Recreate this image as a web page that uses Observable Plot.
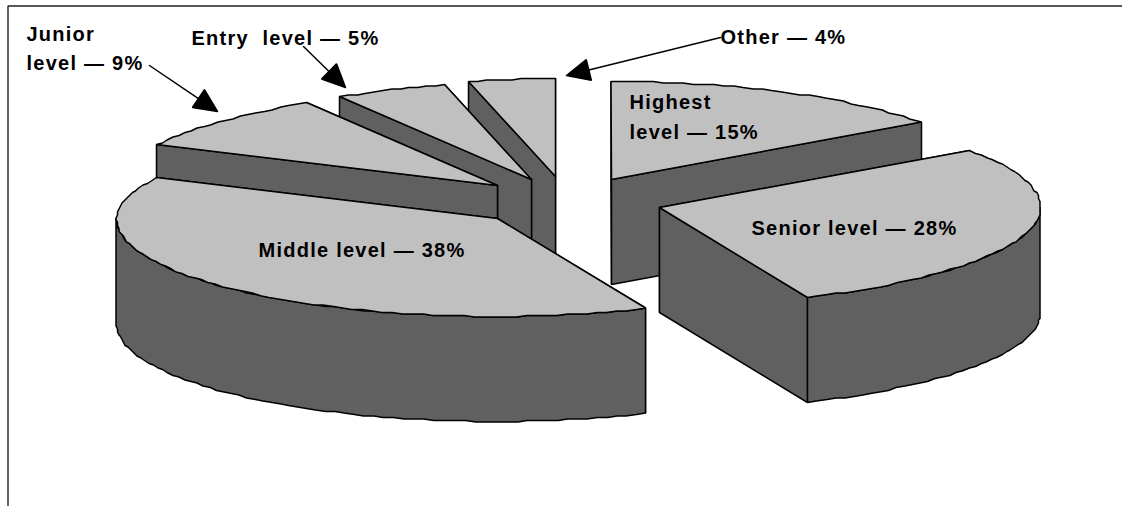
<!DOCTYPE html>
<html>
<head>
<meta charset="utf-8">
<style>
  html, body { margin: 0; padding: 0; background: #fff; }
  svg { display: block; }
</style>
<script src="https://cdn.jsdelivr.net/npm/d3@7"></script>
<script src="https://cdn.jsdelivr.net/npm/@observablehq/plot@0.6"></script>
</head>
<body>
<div id="chart"></div>
<script>
// Share of staff per level, clockwise from twelve o'clock.
const levels = ["Highest", "Senior", "Middle", "Junior", "Entry", "Other"];
const shares = [15, 28, 38, 9, 5, 4];

// Exploded wedge tips on the drawing grid.
const tipX = [611, 659, 497, 497, 531, 555];
const tipY = [179, 207, 218, 185, 179, 176];

// Back wedges are painted first so the front ones overlap them.
const paintOrder = ["Highest", "Other", "Entry", "Junior", "Middle", "Senior"];

const labelLines = ["Junior", "level — 9%", "Entry  level — 5%", "Other — 4%", "Highest", "level — 15%", "Senior level — 28%", "Middle level — 38%"];
const labelX = [26, 26, 191, 720, 629, 629, 751, 258];
const labelY = [34, 63.5, 38, 37, 102, 132, 228, 250];

// Leader arrows: tail and tip.
const arrowX1 = [149, 303, 720];
const arrowY1 = [65, 46, 37];
const arrowX2 = [217, 345, 566];
const arrowY2 = [111, 87, 75];

const radiusX = 381;
const radiusY = 98;
const depth = 105;
const lightGrey = "#c0c0c0";
const darkGrey = "#606060";
const total = d3.sum(shares);

// The rim recedes a little towards the back left and front right of the disc.
const recede = (deg) => {
  const c = Math.cos(deg * Math.PI / 180);
  if (deg > 270) return 1 - 0.1 * c * c;
  if (deg > 90 && deg < 180) return 1 - 0.035 * c * c;
  return 1;
};

// Rim points snap to a coarse grid, which gives the edge its stepped look.
const snap = (v) => Math.round(v / 1.5) * 1.5;
const rimPoint = (cx, cy, deg, drop = 0) => {
  const a = deg * Math.PI / 180;
  return {x: snap(cx + radiusX * Math.sin(a) * recede(deg)), y: snap(cy - radiusY * Math.cos(a)) + drop};
};
const arc = (cx, cy, from, to, drop = 0) => {
  const n = Math.max(1, Math.ceil((to - from) / 1.6));
  return d3.range(n + 1).map((i) => rimPoint(cx, cy, from + (to - from) * i / n, drop));
};

let running = 0;
const wedges = new Map(levels.map((level, i) => {
  const from = running;
  running += shares[i] / total * 360;
  return [level, {from, to: running, cx: tipX[i], cy: tipY[i]}];
}));

const polygon = (pts, fill) => Plot.line([...pts, pts[0]], {
  x: "x", y: "y", fill, stroke: "#000", strokeWidth: 1.5, strokeLinejoin: "miter", curve: "linear"
});

const wedgeMarks = (w) => {
  const tip = {x: w.cx, y: w.cy};
  const tipLow = {x: w.cx, y: w.cy + depth};
  const wall = (deg) => {
    const r = rimPoint(w.cx, w.cy, deg);
    return polygon([tip, r, {x: r.x, y: r.y + depth}, tipLow], darkGrey);
  };
  // The cut face whose rim end sits lower on the page is the nearer one.
  const cuts = d3.sort([w.from, w.to], (deg) => -Math.cos(deg * Math.PI / 180));
  const marks = cuts.map(wall);
  const lo = Math.max(w.from, 90);
  const hi = Math.min(w.to, 270);
  if (lo < hi) {
    marks.push(polygon([...arc(w.cx, w.cy, lo, hi), ...arc(w.cx, w.cy, lo, hi, depth).reverse()], darkGrey));
  }
  marks.push(polygon([tip, ...arc(w.cx, w.cy, w.from, w.to)], lightGrey));
  return marks;
};

const arrowMarks = arrowX1.flatMap((x1, i) => {
  const x2 = arrowX2[i], y2 = arrowY2[i], y1 = arrowY1[i];
  const len = Math.hypot(x2 - x1, y2 - y1);
  const ux = (x2 - x1) / len, uy = (y2 - y1) / len;
  const head = 23, half = 10.7;
  const bx = x2 - ux * head, by = y2 - uy * head;
  return [
    Plot.line([{x: x1, y: y1}, {x: bx, y: by}], {x: "x", y: "y", stroke: "#000", strokeWidth: 1.5}),
    polygon([
      {x: x2, y: y2},
      {x: bx - uy * half, y: by + ux * half},
      {x: bx + uy * half, y: by - ux * half}
    ], "#000")
  ];
});

const labels = labelLines.map((text, i) => ({text, x: labelX[i], y: labelY[i]}));

const plot = Plot.plot({
  width: 1122,
  height: 506,
  margin: 0,
  x: {domain: [0, 1122], range: [0, 1122], axis: null},
  y: {domain: [0, 506], range: [0, 506], axis: null},
  style: {background: "#fff", letterSpacing: "1.25px"},
  marks: [
    Plot.line([{x: 7.5, y: 506}, {x: 7.5, y: 5.5}, {x: 1122, y: 5.5}], {x: "x", y: "y", stroke: "#222", strokeWidth: 1.4, strokeLinejoin: "miter"}),
    ...paintOrder.flatMap((level) => wedgeMarks(wedges.get(level))),
    ...arrowMarks,
    Plot.text(labels, {
      x: "x", y: "y", text: "text",
      textAnchor: "start", lineAnchor: "middle",
      fontFamily: "Liberation Sans", fontWeight: "bold", fontSize: 20, fill: "#000"
    })
  ]
});
document.getElementById("chart").append(plot);
</script>
</body>
</html>
